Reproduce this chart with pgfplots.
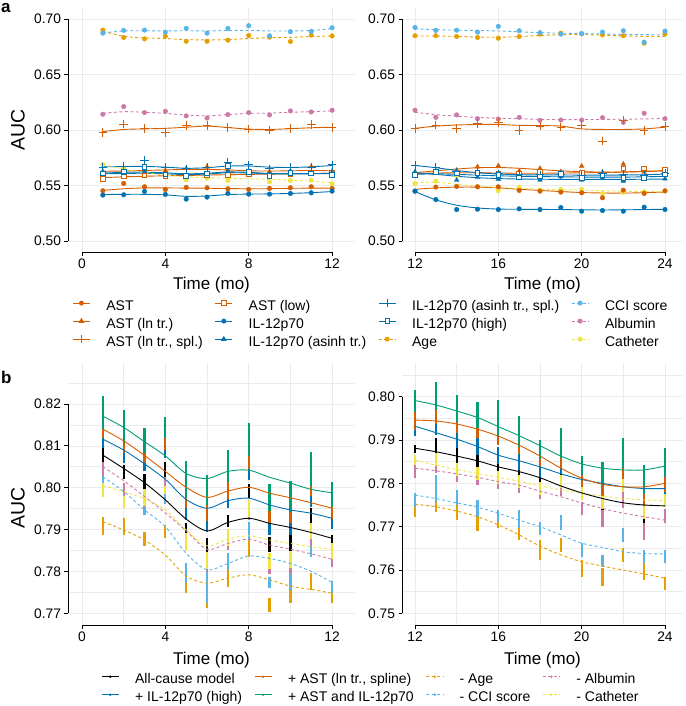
\documentclass[border=0pt]{standalone}
\usepackage{pgfplots}
\usepackage{pgfplotstable}
\pgfplotsset{compat=1.18}
\usepackage{fontspec}
\setmainfont{Liberation Sans}
\definecolor{verm}{HTML}{D55E00}
\definecolor{ilb}{HTML}{0072B2}
\definecolor{ageo}{HTML}{E69F00}
\definecolor{sky}{HTML}{56B4E9}
\definecolor{pnk}{HTML}{CC79A7}
\definecolor{yel}{HTML}{F0E442}
\definecolor{grn}{HTML}{009E73}
\definecolor{gridc}{RGB}{235,235,235}

% ---------- panel a, months 1-12 : points ----------
\pgfplotstableread{
x AST ASTln ASTspl ASTlow IL ILas ILspl ILhi Age CCI Alb Cat
1 0.5452 0.5630 0.5976 0.5560 0.5413 0.5600 0.5660 0.5608 0.6900 0.6873 0.6142 0.5690
2 0.5518 0.5625 0.6054 0.5580 0.5416 0.5610 0.5675 0.5625 0.6834 0.6898 0.6211 0.5654
3 0.5488 0.5640 0.6012 0.5590 0.5446 0.5630 0.5725 0.5669 0.6822 0.6901 0.6157 0.5587
4 0.5464 0.5635 0.5976 0.5585 0.5419 0.5600 0.5665 0.5600 0.6846 0.6883 0.6169 0.5623
5 0.5482 0.5654 0.6039 0.5590 0.5377 0.5590 0.5650 0.5584 0.6800 0.6916 0.6127 0.5551
6 0.5479 0.5669 0.6042 0.5595 0.5395 0.5605 0.5660 0.5610 0.6800 0.6873 0.6108 0.5566
7 0.5470 0.5640 0.6024 0.5593 0.5428 0.5625 0.5705 0.5678 0.6810 0.6916 0.6139 0.5545
8 0.5464 0.5625 0.6009 0.5600 0.5422 0.5620 0.5685 0.5623 0.6852 0.6940 0.6157 0.5602
9 0.5473 0.5625 0.6000 0.5600 0.5422 0.5605 0.5650 0.5587 0.6837 0.6849 0.6136 0.5533
10 0.5479 0.5630 0.6015 0.5605 0.5428 0.5600 0.5660 0.5614 0.6798 0.6886 0.6172 0.5545
11 0.5488 0.5670 0.6051 0.5608 0.5434 0.5605 0.5660 0.5608 0.6855 0.6889 0.6163 0.5548
12 0.5473 0.5630 0.6024 0.5612 0.5449 0.5620 0.5685 0.5596 0.6849 0.6922 0.6178 0.5515
}\aLp
\pgfplotstableread{
x AST ASTln ASTspl ASTlow IL ILas ILspl ILhi Age CCI Alb Cat
1 0.5455 0.5628 0.5985 0.5570 0.5418 0.5605 0.5668 0.5612 0.6890 0.6875 0.6150 0.5688
2 0.5470 0.5630 0.6005 0.5578 0.5420 0.5608 0.5670 0.5618 0.6845 0.6893 0.6165 0.5650
3 0.5478 0.5635 0.6010 0.5583 0.5420 0.5610 0.5672 0.5620 0.6830 0.6895 0.6160 0.5615
4 0.5478 0.5640 0.6015 0.5587 0.5415 0.5605 0.5665 0.5614 0.6825 0.6893 0.6150 0.5595
5 0.5476 0.5645 0.6025 0.5590 0.5402 0.5598 0.5655 0.5605 0.6815 0.6895 0.6135 0.5578
6 0.5475 0.5645 0.6035 0.5594 0.5405 0.5603 0.5660 0.5610 0.6812 0.6893 0.6128 0.5570
7 0.5472 0.5640 0.6022 0.5597 0.5418 0.5615 0.5675 0.5622 0.6815 0.6897 0.6138 0.5565
8 0.5470 0.5632 0.6008 0.5600 0.5422 0.5612 0.5675 0.5618 0.6825 0.6898 0.6150 0.5560
9 0.5471 0.5630 0.6005 0.5602 0.5424 0.5605 0.5665 0.5608 0.6832 0.6893 0.6152 0.5555
10 0.5474 0.5632 0.6012 0.5605 0.5428 0.5603 0.5662 0.5608 0.6835 0.6893 0.6160 0.5548
11 0.5476 0.5635 0.6020 0.5607 0.5435 0.5605 0.5668 0.5608 0.6843 0.6897 0.6165 0.5538
12 0.5475 0.5632 0.6025 0.5610 0.5445 0.5612 0.5680 0.5606 0.6847 0.6915 0.6172 0.5524
}\aLl
% ---------- panel a, months 12-24 ----------
\pgfplotstableread{
x AST ASTln ASTspl ASTlow IL ILas ILspl ILhi Age CCI Alb Cat
12 0.5449 0.5614 0.6012 0.5600 0.5449 0.5623 0.5680 0.5593 0.6850 0.6925 0.6178 0.5518
13 0.5485 0.5625 0.6045 0.5625 0.5373 0.5610 0.5663 0.5623 0.6850 0.6898 0.6114 0.5539
14 0.5491 0.5638 0.6015 0.5610 0.5283 0.5548 0.5623 0.5608 0.6843 0.6900 0.6136 0.5587
15 0.5488 0.5669 0.6060 0.5615 0.5286 0.5575 0.5615 0.5612 0.6834 0.6883 0.6102 0.5488
16 0.5488 0.5678 0.6066 0.5610 0.5283 0.5555 0.5605 0.5593 0.6828 0.6934 0.6099 0.5452
17 0.5455 0.5630 0.5994 0.5605 0.5289 0.5570 0.5600 0.5572 0.6843 0.6895 0.6114 0.5482
18 0.5449 0.5654 0.6036 0.5620 0.5283 0.5550 0.5595 0.5580 0.6864 0.6877 0.6087 0.5458
19 0.5440 0.5625 0.6027 0.5610 0.5301 0.5580 0.5600 0.5605 0.6873 0.6864 0.6090 0.5464
20 0.5434 0.5675 0.6045 0.5615 0.5268 0.5550 0.5590 0.5570 0.6867 0.6870 0.6090 0.5464
21 0.5389 0.5620 0.5900 0.5600 0.5274 0.5565 0.5610 0.5590 0.6858 0.6883 0.6111 0.5428
22 0.5458 0.5693 0.6090 0.5654 0.5268 0.5540 0.5595 0.5570 0.6850 0.6895 0.6069 0.5437
23 0.5428 0.5620 0.5994 0.5654 0.5304 0.5560 0.5592 0.5570 0.6783 0.6792 0.6151 0.5443
24 0.5452 0.5630 0.6030 0.5639 0.5283 0.5560 0.5610 0.5600 0.6867 0.6892 0.6102 0.5449
}\aRp
\pgfplotstableread{
x AST ASTln ASTspl ASTlow IL ILas ILspl ILhi Age CCI Alb Cat
12 0.5465 0.5615 0.6015 0.5608 0.5445 0.5615 0.5680 0.5600 0.6848 0.6912 0.6160 0.5525
13 0.5478 0.5632 0.6035 0.5612 0.5370 0.5600 0.5660 0.5605 0.6847 0.6905 0.6138 0.5530
14 0.5485 0.5648 0.6045 0.5614 0.5322 0.5583 0.5635 0.5600 0.6844 0.6900 0.6125 0.5510
15 0.5485 0.5660 0.6050 0.5614 0.5297 0.5570 0.5615 0.5593 0.6838 0.6897 0.6113 0.5495
16 0.5478 0.5662 0.6050 0.5612 0.5287 0.5562 0.5603 0.5587 0.6836 0.6893 0.6106 0.5482
17 0.5466 0.5655 0.6042 0.5610 0.5285 0.5558 0.5597 0.5583 0.6842 0.6885 0.6102 0.5473
18 0.5455 0.5643 0.6040 0.5610 0.5284 0.5556 0.5595 0.5580 0.6852 0.6878 0.6096 0.5466
19 0.5445 0.5632 0.6035 0.5612 0.5283 0.5555 0.5595 0.5578 0.6860 0.6873 0.6094 0.5462
20 0.5436 0.5625 0.6010 0.5614 0.5280 0.5555 0.5593 0.5576 0.6860 0.6870 0.6094 0.5458
21 0.5432 0.5620 0.6005 0.5617 0.5279 0.5555 0.5593 0.5575 0.6855 0.6866 0.6096 0.5452
22 0.5431 0.5620 0.6005 0.5622 0.5280 0.5555 0.5594 0.5575 0.6848 0.6862 0.6097 0.5448
23 0.5435 0.5625 0.6010 0.5628 0.5283 0.5556 0.5597 0.5578 0.6844 0.6860 0.6100 0.5446
24 0.5441 0.5633 0.6025 0.5632 0.5285 0.5558 0.5602 0.5582 0.6844 0.6858 0.6103 0.5445
}\aRl
% ---------- panel b : point-cloud ranges (lo/hi) per month ----------
\pgfplotstableread{
x Glo Ghi Olo Ohi Blo Bhi Klo Khi Alo Ahi Clo Chi Plo Phi Ylo Yhi
1 0.8141 0.8218 0.8118 0.8162 0.8094 0.8138 0.8062 0.8094 0.7888 0.7931 0.8008 0.8042 0.8028 0.8062 0.7979 0.8012
2 0.8106 0.8187 0.8082 0.8126 0.8060 0.8104 0.8022 0.8054 0.7887 0.7927 0.7963 0.8003 0.7979 0.8012 0.7951 0.7981
3 0.8084 0.8142 0.8059 0.8103 0.8039 0.8083 0.7998 0.8034 0.7860 0.7895 0.7935 0.7958 0.7955 0.7985 0.7957 0.7997
4 0.8119 0.8168 0.8090 0.8134 0.8071 0.8115 0.8026 0.8062 0.7879 0.7911 0.7962 0.7992 0.7985 0.8025 0.7985 0.8005
5 0.7976 0.8065 0.7951 0.7995 0.7922 0.7966 0.7879 0.7915 0.7748 0.7792 0.7772 0.7820 0.7849 0.7889 0.7849 0.7891
6 0.7958 0.8030 0.7921 0.7965 0.7895 0.7939 0.7847 0.7879 0.7712 0.7756 0.7725 0.7800 0.7799 0.7839 0.7807 0.7847
7 0.8013 0.8090 0.7974 0.8018 0.7951 0.7995 0.7907 0.7935 0.7764 0.7803 0.7803 0.7843 0.7851 0.7891 0.7861 0.7901
8 0.8077 0.8155 0.8044 0.8088 0.8018 0.8062 0.7975 0.8010 0.7835 0.7875 0.7875 0.7919 0.7922 0.7962 0.7930 0.7970
9 0.7945 0.8009 0.7915 0.7959 0.7887 0.7931 0.7847 0.7883 0.7704 0.7736 0.7760 0.7788 0.7793 0.7833 0.7805 0.7845
10 0.7943 0.8017 0.7916 0.7960 0.7887 0.7931 0.7843 0.7891 0.7724 0.7760 0.7756 0.7796 0.7795 0.7835 0.7809 0.7849
11 0.8004 0.8086 0.7980 0.8024 0.7955 0.7999 0.7911 0.7951 0.7756 0.7796 0.7835 0.7867 0.7860 0.7900 0.7877 0.7917
12 0.7954 0.8014 0.7925 0.7969 0.7901 0.7945 0.7863 0.7887 0.7724 0.7748 0.7748 0.7776 0.7811 0.7838 0.7829 0.7869
}\bLc
\pgfplotstableread{
x Glo Ghi Olo Ohi Blo Bhi Klo Khi Alo Ahi Clo Chi Plo Phi Ylo Yhi
12 0.7964 0.8015 0.7924 0.7964 0.7910 0.7950 0.7869 0.7889 0.7723 0.7754 0.7746 0.7777 0.7812 0.7842 0.7842 0.7865
13 0.7970 0.8035 0.7938 0.7978 0.7911 0.7951 0.7869 0.7904 0.7735 0.7758 0.7758 0.7819 0.7825 0.7861 0.7841 0.7871
14 0.7942 0.8004 0.7917 0.7957 0.7882 0.7922 0.7846 0.7885 0.7715 0.7754 0.7750 0.7785 0.7804 0.7840 0.7817 0.7847
15 0.7927 0.7989 0.7905 0.7945 0.7865 0.7905 0.7827 0.7873 0.7689 0.7723 0.7723 0.7762 0.7796 0.7832 0.7808 0.7838
16 0.7906 0.7992 0.7889 0.7929 0.7845 0.7885 0.7812 0.7858 0.7696 0.7723 0.7712 0.7739 0.7786 0.7822 0.7799 0.7829
17 0.7885 0.7955 0.7868 0.7908 0.7832 0.7872 0.7804 0.7846 0.7669 0.7704 0.7696 0.7739 0.7778 0.7814 0.7790 0.7820
18 0.7856 0.7900 0.7837 0.7877 0.7812 0.7852 0.7800 0.7815 0.7623 0.7669 0.7681 0.7712 0.7765 0.7789 0.7773 0.7803
19 0.7858 0.7927 0.7835 0.7875 0.7822 0.7862 0.7800 0.7831 0.7642 0.7673 0.7693 0.7727 0.7771 0.7807 0.7790 0.7820
20 0.7820 0.7863 0.7792 0.7832 0.7789 0.7829 0.7762 0.7785 0.7585 0.7623 0.7630 0.7663 0.7727 0.7758 0.7762 0.7792
21 0.7794 0.7850 0.7762 0.7802 0.7764 0.7804 0.7739 0.7758 0.7563 0.7604 0.7608 0.7635 0.7700 0.7739 0.7740 0.7770
22 0.7836 0.7904 0.7802 0.7842 0.7802 0.7842 0.7781 0.7796 0.7619 0.7650 0.7665 0.7696 0.7742 0.7780 0.7780 0.7810
23 0.7776 0.7842 0.7742 0.7782 0.7738 0.7778 0.7708 0.7735 0.7577 0.7615 0.7615 0.7646 0.7669 0.7708 0.7717 0.7747
24 0.7815 0.7881 0.7780 0.7820 0.7768 0.7808 0.7746 0.7758 0.7554 0.7585 0.7615 0.7646 0.7708 0.7742 0.7745 0.7775
}\bRc
% ---------- panel b : fitted curves ----------
\pgfplotstableread{
x G O B K Y P C A
1 0.8171 0.8140 0.8116 0.8078 0.8004 0.8050 0.8026 0.7919
2 0.8144 0.8112 0.8090 0.8046 0.7991 0.8017 0.7991 0.7899
3 0.8110 0.8077 0.8057 0.8012 0.7973 0.7979 0.7947 0.7875
4 0.8076 0.8039 0.8020 0.7971 0.7947 0.7940 0.7907 0.7839
5 0.8034 0.8001 0.7972 0.7925 0.7899 0.7897 0.7843 0.7789
6 0.8022 0.7977 0.7951 0.7897 0.7861 0.7853 0.7804 0.7772
7 0.8039 0.7992 0.7969 0.7917 0.7877 0.7867 0.7819 0.7784
8 0.8042 0.8001 0.7975 0.7927 0.7885 0.7877 0.7837 0.7792
9 0.8025 0.7987 0.7959 0.7915 0.7875 0.7863 0.7831 0.7780
10 0.8011 0.7976 0.7947 0.7905 0.7867 0.7853 0.7819 0.7765
11 0.7996 0.7964 0.7939 0.7893 0.7859 0.7842 0.7800 0.7757
12 0.7988 0.7951 0.7927 0.7879 0.7853 0.7829 0.7774 0.7748
}\bLl
\pgfplotstableread{
x G O B K Y P C A
12 0.7991 0.7946 0.7932 0.7881 0.7854 0.7835 0.7773 0.7752
13 0.7981 0.7944 0.7917 0.7873 0.7842 0.7829 0.7765 0.7746
14 0.7967 0.7937 0.7902 0.7863 0.7832 0.7822 0.7755 0.7736
15 0.7952 0.7925 0.7885 0.7852 0.7823 0.7814 0.7745 0.7723
16 0.7931 0.7909 0.7865 0.7838 0.7814 0.7804 0.7731 0.7704
17 0.7910 0.7888 0.7852 0.7827 0.7805 0.7796 0.7715 0.7681
18 0.7887 0.7863 0.7838 0.7813 0.7794 0.7782 0.7700 0.7655
19 0.7863 0.7835 0.7822 0.7794 0.7785 0.7769 0.7681 0.7635
20 0.7845 0.7812 0.7809 0.7778 0.7777 0.7755 0.7662 0.7619
21 0.7835 0.7798 0.7800 0.7765 0.7771 0.7742 0.7652 0.7609
22 0.7831 0.7792 0.7792 0.7755 0.7765 0.7731 0.7642 0.7600
23 0.7831 0.7792 0.7788 0.7750 0.7762 0.7723 0.7638 0.7591
24 0.7840 0.7800 0.7788 0.7748 0.7760 0.7715 0.7637 0.7581
}\bRl

\pgfplotsset{
  base/.style={
    scale only axis, clip=false,
    axis line style={draw=none},
    tick pos=left, tick align=outside,
    major tick length=3.5pt, minor tick length=0pt,
    tick style={black, line width=0.8pt},
    major grid style={gridc, line width=0.7pt},
    minor grid style={gridc, line width=0.7pt},
    tick label style={font=\fontsize{13.8}{15}\selectfont},
    /pgf/number format/assume math mode=true,
    yticklabel style={/pgf/number format/fixed, /pgf/number format/fixed zerofill, /pgf/number format/precision=2},
  },
  lg/.style={legend image code/.code={\draw[mark repeat=2,mark phase=2,##1] plot coordinates {(0pt,4pt) (8.5pt,4pt) (17pt,4pt)};}},
  legsty/.style={legend cell align=left,
    legend style={draw=none, fill=none, inner sep=0pt, outer sep=0pt,
      font=\fontsize{14}{16}\selectfont, row sep=0pt,
      nodes={inner sep=0pt, text height=12pt, text depth=6pt},
      /tikz/every odd column/.append style={column sep=16pt},
      /tikz/every even column/.append style={column sep=12pt}}},
  ln/.style={line width=0.9pt, smooth, tension=0.5, forget plot},
  dsh/.style={dash pattern=on 3pt off 2.5pt},
  pt/.style={only marks, forget plot, mark size=2.3pt},
  clus/.style={only marks, mark=*, mark size=0pt, mark options={draw=none, fill=none}, forget plot,
    error bars/y dir=both, error bars/y explicit, error bars/error mark=none,
    error bars/error bar style={line width=2.2pt, solid, #1}},
}
\newcommand{\aLines}[1]{%
  \addplot[ln, verm] table[x=x,y=AST]{#1};
  \addplot[ln, verm] table[x=x,y=ASTln]{#1};
  \addplot[ln, verm] table[x=x,y=ASTspl]{#1};
  \addplot[ln, verm] table[x=x,y=ASTlow]{#1};
  \addplot[ln, ilb] table[x=x,y=IL]{#1};
  \addplot[ln, ilb] table[x=x,y=ILas]{#1};
  \addplot[ln, ilb] table[x=x,y=ILspl]{#1};
  \addplot[ln, ilb] table[x=x,y=ILhi]{#1};
  \addplot[ln, dsh, ageo] table[x=x,y=Age]{#1};
  \addplot[ln, dsh, sky] table[x=x,y=CCI]{#1};
  \addplot[ln, dsh, pnk] table[x=x,y=Alb]{#1};
  \addplot[ln, dsh, yel] table[x=x,y=Cat]{#1};
}
\newcommand{\aPts}[1]{%
  \addplot[pt, ageo, mark=*] table[x=x,y=Age]{#1};
  \addplot[pt, sky, mark=*] table[x=x,y=CCI]{#1};
  \addplot[pt, pnk, mark=*] table[x=x,y=Alb]{#1};
  \addplot[pt, yel, mark=*] table[x=x,y=Cat]{#1};
  \addplot[pt, verm, mark=*] table[x=x,y=AST]{#1};
  \addplot[pt, verm, mark=triangle*, mark size=2.7pt] table[x=x,y=ASTln]{#1};
  \addplot[pt, verm, mark=+, mark size=4.3pt, mark options={verm, line width=0.9pt}] table[x=x,y=ASTspl]{#1};
  \addplot[pt, verm, mark=square*, mark size=2.3pt, mark options={fill=white, line width=0.9pt}] table[x=x,y=ASTlow]{#1};
  \addplot[pt, ilb, mark=*] table[x=x,y=IL]{#1};
  \addplot[pt, ilb, mark=triangle*, mark size=2.7pt] table[x=x,y=ILas]{#1};
  \addplot[pt, ilb, mark=+, mark size=4.3pt, mark options={ilb, line width=0.9pt}] table[x=x,y=ILspl]{#1};
  \addplot[pt, ilb, mark=square*, mark size=2.3pt, mark options={fill=white, line width=0.9pt}] table[x=x,y=ILhi]{#1};
}
\newcommand{\bClus}[1]{%
  \addplot[clus=black] table[x=x, y expr={(\thisrow{Klo}+\thisrow{Khi})/2}, y error expr={(\thisrow{Khi}-\thisrow{Klo})/2}]{#1};
  \addplot[clus=ilb] table[x=x, y expr={(\thisrow{Blo}+\thisrow{Bhi})/2}, y error expr={(\thisrow{Bhi}-\thisrow{Blo})/2}]{#1};
  \addplot[clus=verm] table[x=x, y expr={(\thisrow{Olo}+\thisrow{Ohi})/2}, y error expr={(\thisrow{Ohi}-\thisrow{Olo})/2}]{#1};
  \addplot[clus=grn] table[x=x, y expr={(\thisrow{Glo}+\thisrow{Ghi})/2}, y error expr={(\thisrow{Ghi}-\thisrow{Glo})/2}]{#1};
  \addplot[clus=ageo] table[x=x, y expr={(\thisrow{Alo}+\thisrow{Ahi})/2}, y error expr={(\thisrow{Ahi}-\thisrow{Alo})/2}]{#1};
  \addplot[clus=sky] table[x=x, y expr={(\thisrow{Clo}+\thisrow{Chi})/2}, y error expr={(\thisrow{Chi}-\thisrow{Clo})/2}]{#1};
  \addplot[clus=pnk] table[x=x, y expr={(\thisrow{Plo}+\thisrow{Phi})/2}, y error expr={(\thisrow{Phi}-\thisrow{Plo})/2}]{#1};
  \addplot[clus=yel] table[x=x, y expr={(\thisrow{Ylo}+\thisrow{Yhi})/2}, y error expr={(\thisrow{Yhi}-\thisrow{Ylo})/2}]{#1};
}
\newcommand{\bLines}[1]{%
  \addplot[ln, dsh, ageo] table[x=x,y=A]{#1};
  \addplot[ln, dsh, sky] table[x=x,y=C]{#1};
  \addplot[ln, dsh, pnk] table[x=x,y=P]{#1};
  \addplot[ln, dsh, yel] table[x=x,y=Y]{#1};
  \addplot[ln, black] table[x=x,y=K]{#1};
  \addplot[ln, ilb] table[x=x,y=B]{#1};
  \addplot[ln, verm] table[x=x,y=O]{#1};
  \addplot[ln, grn] table[x=x,y=G]{#1};
}

\begin{document}
\begin{tikzpicture}
\useasboundingbox (0pt,0pt) rectangle (685pt,-706pt);

% ================= panel a, left =================
\begin{axis}[base, lg, legsty, at={(68pt,-252pt)}, anchor=south west,
  width=287pt, height=244pt,
  xmin=-0.672, xmax=13.1, ymin=0.49, ymax=0.71,
  xtick={0,4,8,12}, ytick={0.5,0.55,0.6,0.65,0.7},
  xmajorgrids, ymajorgrids,
  legend columns=3, transpose legend,
  legend style={at={(1.052,-0.189)}, anchor=north}]
\addlegendimage{verm, line width=0.9pt, mark=*, mark size=2pt}
\addlegendentry{AST}
\addlegendimage{verm, line width=0.9pt, mark=triangle*, mark size=2.4pt}
\addlegendentry{AST (ln tr.)}
\addlegendimage{verm, line width=0.9pt, mark=+, mark size=4pt, mark options={verm}}
\addlegendentry{AST (ln tr., spl.)}
\addlegendimage{verm, line width=0.9pt, mark=square*, mark size=2.2pt, mark options={fill=white}}
\addlegendentry{AST (low)}
\addlegendimage{ilb, line width=0.9pt, mark=*, mark size=2pt}
\addlegendentry{IL-12p70}
\addlegendimage{ilb, line width=0.9pt, mark=triangle*, mark size=2.4pt}
\addlegendentry{IL-12p70 (asinh tr.)}
\addlegendimage{ilb, line width=0.9pt, mark=+, mark size=4pt, mark options={ilb}}
\addlegendentry{IL-12p70 (asinh tr., spl.)}
\addlegendimage{ilb, line width=0.9pt, mark=square*, mark size=2.2pt, mark options={fill=white}}
\addlegendentry{IL-12p70 (high)}
\addlegendimage{ageo, line width=0.9pt, dsh, mark=*, mark size=2pt, mark options={solid}}
\addlegendentry{Age}
\addlegendimage{sky, line width=0.9pt, dsh, mark=*, mark size=2pt, mark options={solid}}
\addlegendentry{CCI score}
\addlegendimage{pnk, line width=0.9pt, dsh, mark=*, mark size=2pt, mark options={solid}}
\addlegendentry{Albumin}
\addlegendimage{yel, line width=0.9pt, dsh, mark=*, mark size=2pt, mark options={solid}}
\addlegendentry{Catheter}
\aLines{\aLl}
\aPts{\aLp}
\draw[line width=1pt] (axis cs:0,0.49) -- (axis cs:12,0.49);
\draw[line width=1pt] (axis cs:-0.672,0.5) -- (axis cs:-0.672,0.7);
\end{axis}

% ================= panel a, right =================
\begin{axis}[base, at={(402pt,-252pt)}, anchor=south west,
  width=281pt, height=244pt,
  xmin=11.376, xmax=24.865, ymin=0.49, ymax=0.71,
  xtick={12,16,20,24}, ytick={0.5,0.55,0.6,0.65,0.7},
  xmajorgrids, ymajorgrids]
\aLines{\aRl}
\aPts{\aRp}
\draw[line width=1pt] (axis cs:12,0.49) -- (axis cs:24,0.49);
\draw[line width=1pt] (axis cs:11.376,0.5) -- (axis cs:11.376,0.7);
\end{axis}

% ================= panel b, left =================
\begin{axis}[base, lg, legsty, at={(68pt,-625.3pt)}, anchor=south west,
  width=287pt, height=262.3pt,
  xmin=-0.672, xmax=13.1, ymin=0.76713, ymax=0.8298,
  xtick={0,4,8,12}, minor xtick={2,6,10},
  ytick={0.77,0.78,0.79,0.80,0.81,0.82},
  minor ytick={0.775,0.785,0.795,0.805,0.815,0.825},
  grid=both,
  legend columns=2, transpose legend,
  legend style={at={(1.052,-0.177)}, anchor=north}]
\addlegendimage{black, line width=0.9pt, mark=*, mark size=0.7pt}
\addlegendentry{All-cause model}
\addlegendimage{ilb, line width=0.9pt, mark=*, mark size=0.7pt}
\addlegendentry{+ IL-12p70 (high)}
\addlegendimage{verm, line width=0.9pt, mark=*, mark size=0.7pt}
\addlegendentry{+ AST (ln tr., spline)}
\addlegendimage{grn, line width=0.9pt, mark=*, mark size=0.7pt}
\addlegendentry{+ AST and IL-12p70}
\addlegendimage{ageo, line width=0.9pt, dsh, mark=*, mark size=0.7pt, mark options={solid}}
\addlegendentry{- Age}
\addlegendimage{sky, line width=0.9pt, dsh, mark=*, mark size=0.7pt, mark options={solid}}
\addlegendentry{- CCI score}
\addlegendimage{pnk, line width=0.9pt, dsh, mark=*, mark size=0.7pt, mark options={solid}}
\addlegendentry{- Albumin}
\addlegendimage{yel, line width=0.9pt, dsh, mark=*, mark size=0.7pt, mark options={solid}}
\addlegendentry{- Catheter}
\bClus{\bLc}
\bLines{\bLl}
\draw[line width=1pt] (axis cs:0,0.76713) -- (axis cs:12,0.76713);
\draw[line width=1pt] (axis cs:-0.672,0.77) -- (axis cs:-0.672,0.82);
\end{axis}

% ================= panel b, right =================
\begin{axis}[base, at={(402pt,-625.3pt)}, anchor=south west,
  width=281pt, height=262.3pt,
  xmin=11.376, xmax=24.865, ymin=0.74723, ymax=0.80778,
  xtick={12,16,20,24}, minor xtick={14,18,22},
  ytick={0.75,0.76,0.77,0.78,0.79,0.80},
  minor ytick={0.755,0.765,0.775,0.785,0.795,0.805},
  grid=both]
\bClus{\bRc}
\bLines{\bRl}
\draw[line width=1pt] (axis cs:12,0.74723) -- (axis cs:24,0.74723);
\draw[line width=1pt] (axis cs:11.376,0.75) -- (axis cs:11.376,0.80);
\end{axis}

% ================= titles and labels =================
\node[anchor=base, inner sep=0pt, font=\fontsize{17}{17}\selectfont] at (211.5pt,-289pt) {Time (mo)};
\node[anchor=base, inner sep=0pt, font=\fontsize{17}{17}\selectfont] at (542.5pt,-289pt) {Time (mo)};
\node[anchor=base, inner sep=0pt, font=\fontsize{17}{17}\selectfont] at (211.5pt,-664pt) {Time (mo)};
\node[anchor=base, inner sep=0pt, font=\fontsize{17}{17}\selectfont] at (542.5pt,-664pt) {Time (mo)};
\node[rotate=90, inner sep=0pt, font=\fontsize{19.5}{20}\selectfont] at (18pt,-130pt) {AUC};
\node[rotate=90, inner sep=0pt, font=\fontsize{19.5}{20}\selectfont] at (18pt,-508pt) {AUC};
\node[anchor=base west, inner sep=0pt, font=\bfseries\fontsize{17}{17}\selectfont] at (1pt,-13pt) {a};
\node[anchor=base west, inner sep=0pt, font=\bfseries\fontsize{17}{17}\selectfont] at (1pt,-383pt) {b};
\end{tikzpicture}
\end{document}
